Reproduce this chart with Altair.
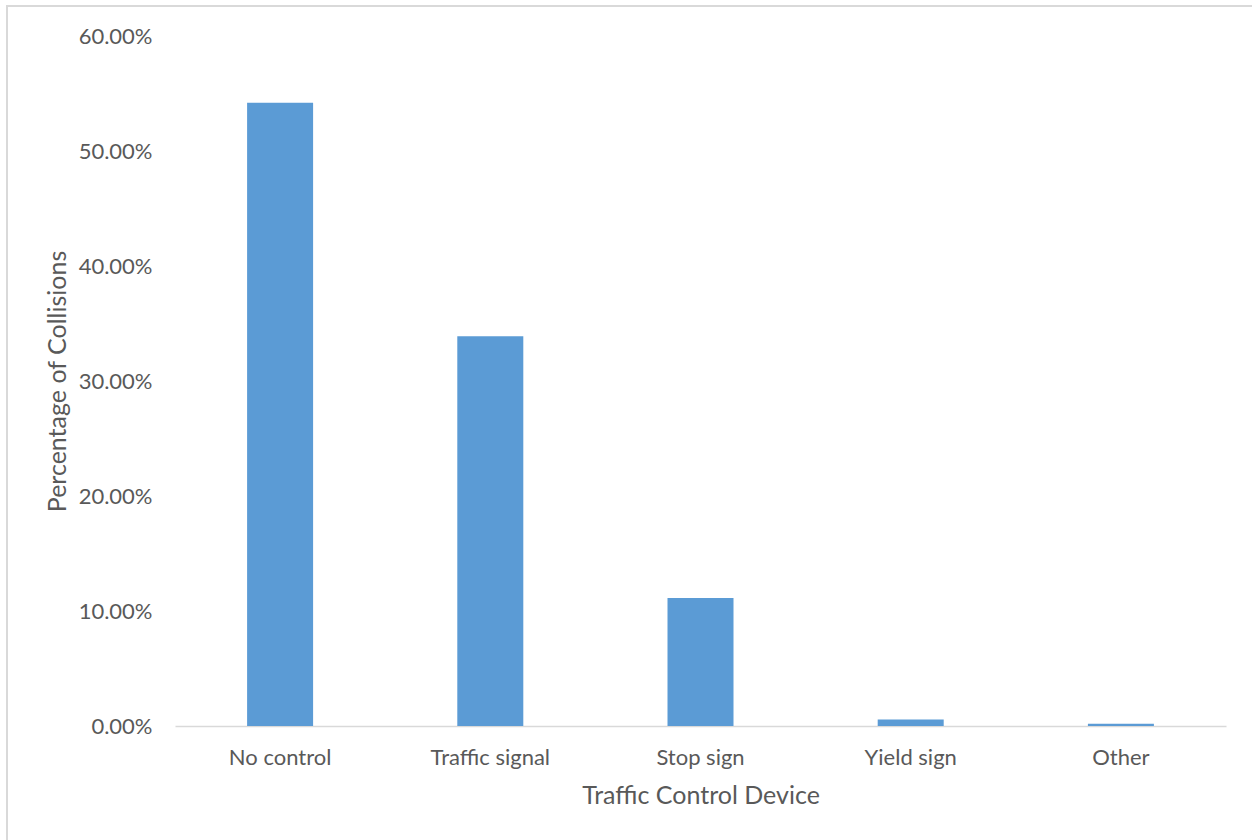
import altair as alt
import pandas as pd

# Share of collisions by traffic control device present
devices = ["No control", "Traffic signal", "Stop sign", "Yield sign", "Other"]
shares = [0.5420, 0.3390, 0.1113, 0.0056, 0.0019]

df = pd.DataFrame({"device": devices, "share": shares})

FONT = "Lato"
TEXT = "#595959"

bars = alt.Chart(df).mark_bar(color="#5b9bd5").encode(
    x=alt.X(
        "device:N",
        sort=devices,
        scale=alt.Scale(paddingInner=0.686, paddingOuter=0.343),
        axis=alt.Axis(
            title="Traffic Control Device",
            labelAngle=0,
            ticks=False,
            domainColor="#d9d9d9",
            domainWidth=1.5,
            labelPadding=21,
            titlePadding=15,
        ),
    ),
    y=alt.Y(
        "share:Q",
        scale=alt.Scale(domain=[0, 0.6]),
        axis=alt.Axis(
            title="Percentage of Collisions",
            format=".2%",
            values=[0, 0.1, 0.2, 0.3, 0.4, 0.5, 0.6],
            ticks=False,
            domain=False,
            grid=False,
            labelPadding=23,
            titlePadding=8,
        ),
    ),
)

# Light frame around the whole chart
frame = alt.Chart(alt.Data(values=[{}])).mark_rect(
    filled=False, stroke="#d9d9d9", strokeWidth=2
).encode(
    x=alt.value(-168),
    x2=alt.value(1200),
    y=alt.value(-30),
    y2=alt.value(900),
)

chart = (
    alt.layer(frame, bars)
    .properties(
        width=1051,
        height=690,
        autosize=alt.AutoSizeParams(type="none"),
        padding={"left": 175, "top": 36, "right": 26, "bottom": 114},
        background="white",
    )
    .configure_view(stroke=None)
    .configure_axis(
        labelFont=FONT,
        titleFont=FONT,
        labelFontSize=22,
        titleFontSize=25,
        labelColor=TEXT,
        titleColor=TEXT,
        titleFontWeight="normal",
    )
)

chart.save("out.html", embed_options={"renderer": "svg", "actions": False})
